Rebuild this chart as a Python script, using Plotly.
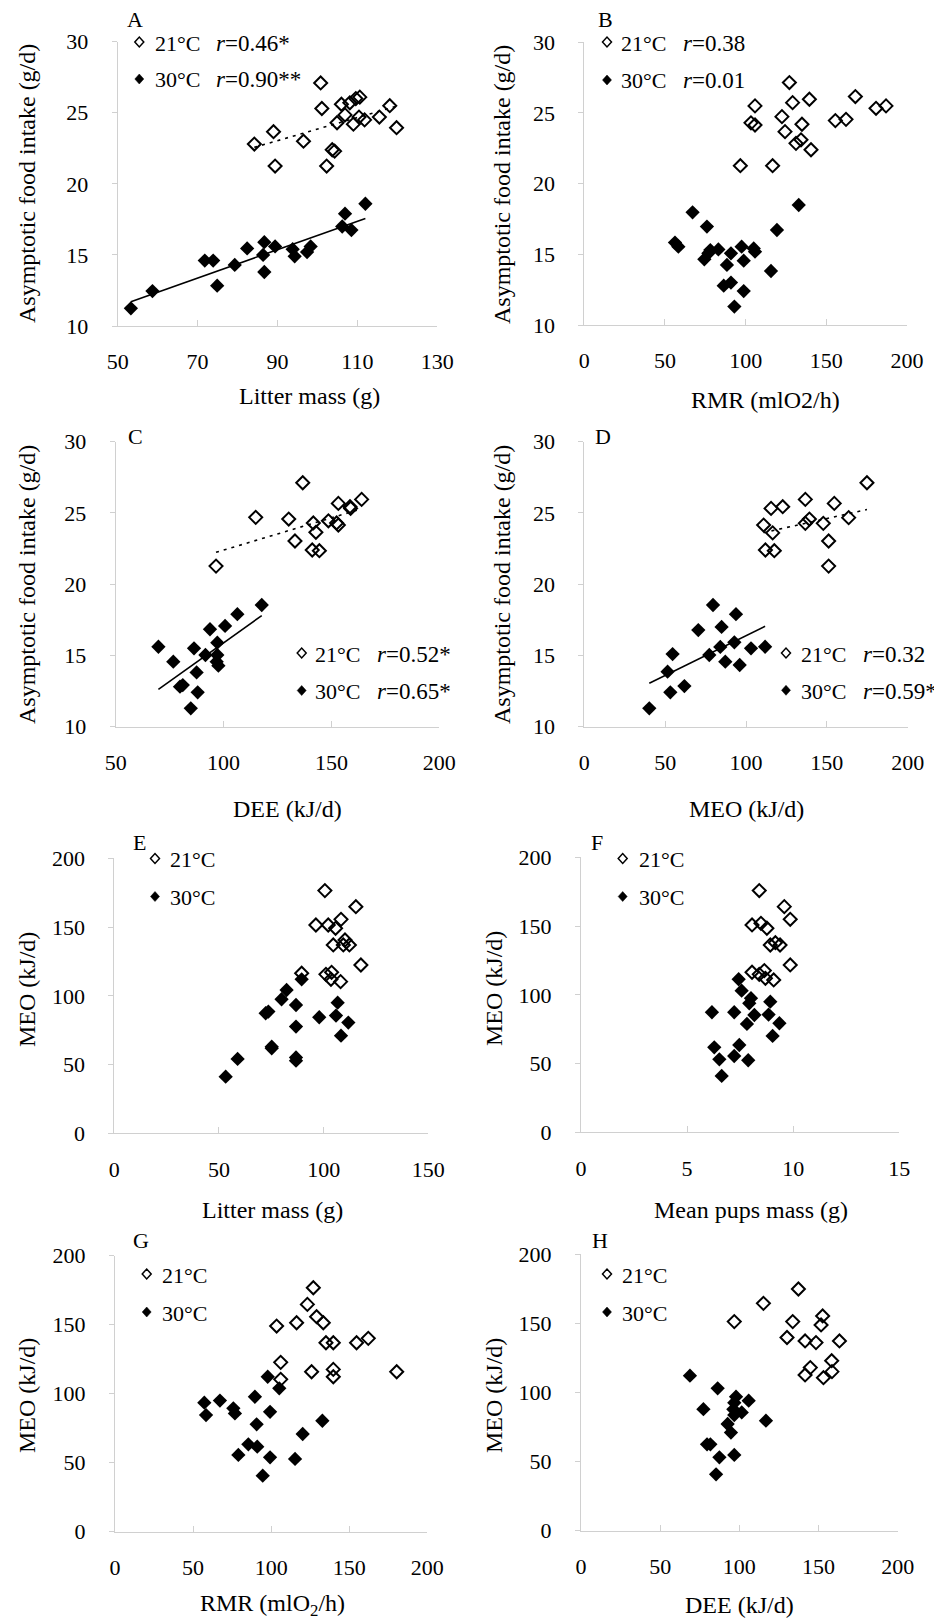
import numpy as np
import plotly.graph_objects as go

# ---------------- data ----------------
# Panel A: litter mass (g) vs asymptotic food intake (g/d)
A21_x = [84.2, 89.0, 89.4, 96.5, 100.8, 101.1, 102.3, 103.7, 104.3, 104.9, 106.0, 106.9, 108.1, 109.0, 109.6, 110.6, 110.4, 111.8, 115.5, 118.1, 119.8]
A21_y = [22.8, 23.67, 21.25, 23.0, 27.1, 25.3, 21.25, 22.4, 22.3, 24.3, 25.6, 24.85, 25.7, 24.2, 26.0, 26.1, 24.7, 24.5, 24.7, 25.5, 23.95]
A30_x = [53.3, 58.7, 71.8, 73.9, 74.9, 79.3, 82.4, 86.7, 86.4, 86.7, 89.4, 93.8, 94.3, 97.4, 98.3, 106.2, 106.9, 108.5, 112.0]
A30_y = [11.24, 12.46, 14.6, 14.6, 12.84, 14.3, 15.46, 15.9, 15.0, 13.8, 15.6, 15.4, 14.9, 15.2, 15.6, 17.0, 17.9, 16.75, 18.6]

# Panel B: RMR vs asymptotic food intake
B21_x = [96.7, 116.7, 103.3, 105.8, 105.8, 122.5, 124.4, 127.1, 129.1, 131.2, 134.3, 134.9, 139.5, 140.5, 155.6, 162.2, 168.0, 180.8, 187.0]
B21_y = [21.27, 21.27, 24.3, 24.15, 25.5, 24.74, 23.68, 27.15, 25.73, 22.85, 23.1, 24.2, 25.97, 22.4, 24.46, 24.55, 26.16, 25.33, 25.5]
B30_x = [56.2, 58.3, 67.1, 76.0, 74.4, 76.9, 78.1, 83.1, 90.9, 88.4, 86.4, 90.9, 93.0, 97.5, 98.8, 98.8, 105.0, 105.8, 115.7, 119.4, 132.9]
B30_y = [15.83, 15.54, 17.97, 16.96, 14.65, 15.07, 15.3, 15.35, 15.07, 14.25, 12.78, 13.0, 11.3, 15.54, 14.55, 12.4, 15.42, 15.19, 13.82, 16.72, 18.49]

# Panel C: DEE vs asymptotic food intake
C21_x = [96.5, 114.9, 130.2, 136.7, 133.1, 141.6, 142.8, 141.1, 144.4, 148.6, 152.4, 153.2, 153.2, 158.6, 158.9, 164.0]
C21_y = [21.27, 24.69, 24.57, 27.12, 23.03, 24.3, 23.64, 22.4, 22.35, 24.45, 24.3, 24.15, 25.67, 25.44, 25.32, 25.95]
C30_x = [69.8, 76.7, 79.8, 81.1, 86.3, 87.5, 88.0, 84.8, 91.6, 93.7, 97.1, 97.1, 96.8, 97.6, 100.7, 106.4, 117.7]
C30_y = [15.61, 14.56, 12.81, 12.92, 15.5, 13.81, 12.41, 11.29, 15.03, 16.84, 15.9, 15.03, 14.56, 14.28, 17.07, 17.9, 18.54]

# Panel D: MEO vs asymptotic food intake
D21_x = [110.9, 112.0, 115.5, 116.5, 117.5, 122.7, 136.7, 136.7, 139.2, 147.8, 151.1, 151.1, 154.6, 163.5, 174.8]
D21_y = [24.15, 22.4, 25.32, 23.6, 22.35, 25.44, 25.95, 24.27, 24.57, 24.27, 23.03, 21.27, 25.67, 24.67, 27.12]
D30_x = [40.2, 51.5, 53.2, 54.6, 61.9, 70.5, 77.3, 79.6, 84.1, 84.9, 87.2, 92.8, 93.8, 96.1, 103.1, 111.8]
D30_y = [11.29, 13.86, 12.41, 15.1, 12.85, 16.78, 15.03, 18.54, 15.6, 17.0, 14.56, 15.92, 17.9, 14.33, 15.5, 15.61]

# Panel E: litter mass vs MEO
E21_x = [100.6, 96.3, 102.2, 105.7, 108.3, 115.4, 104.6, 109.4, 110.2, 112.3, 89.5, 101.1, 103.8, 103.5, 108.1, 117.8]
E21_y = [176.5, 151.5, 151.5, 149.1, 155.6, 164.8, 137.0, 137.0, 140.6, 137.0, 116.4, 115.6, 117.1, 112.0, 110.3, 122.4]
E30_x = [53.2, 58.9, 72.3, 73.6, 75.2, 75.2, 79.9, 82.3, 86.8, 86.8, 86.8, 86.8, 89.5, 97.9, 106.7, 105.9, 111.8, 108.3]
E30_y = [41.2, 54.1, 87.3, 88.5, 63.0, 61.8, 97.5, 104.2, 93.3, 77.6, 55.2, 52.8, 112.0, 84.4, 95.0, 85.6, 80.5, 71.0]

# Panel F: mean pups mass vs MEO
F21_x = [8.40, 9.58, 9.86, 8.06, 8.48, 8.76, 8.92, 9.16, 9.38, 8.06, 8.40, 8.64, 8.69, 9.08, 9.86]
F21_y = [175.8, 164.1, 154.9, 150.8, 152.0, 148.4, 136.2, 137.9, 136.2, 116.4, 114.9, 117.6, 112.0, 110.8, 121.7]
F30_x = [6.17, 6.28, 6.52, 6.63, 7.22, 7.22, 7.46, 7.43, 7.57, 7.88, 8.01, 7.93, 7.82, 8.17, 8.92, 8.84, 9.35, 9.03]
F30_y = [87.3, 61.8, 53.1, 41.0, 87.3, 55.5, 63.5, 111.3, 103.0, 52.4, 97.5, 93.8, 78.8, 85.3, 95.0, 85.6, 79.3, 70.1]

# Panel G: RMR vs MEO
G21_x = [127.0, 123.2, 129.1, 133.4, 116.3, 103.5, 135.1, 139.8, 154.7, 162.2, 106.1, 106.1, 125.9, 139.8, 139.8, 180.4]
G21_y = [176.8, 164.7, 155.8, 151.4, 151.4, 149.0, 136.9, 136.9, 136.9, 140.1, 122.7, 110.4, 115.9, 117.6, 112.3, 115.9]
G30_x = [57.2, 58.3, 67.2, 75.8, 76.8, 79.0, 85.4, 89.6, 90.7, 91.1, 94.6, 97.8, 99.3, 99.3, 105.2, 115.3, 120.2, 132.8]
G30_y = [93.5, 84.5, 95.0, 89.4, 85.7, 55.6, 63.3, 97.8, 77.8, 61.6, 40.6, 112.3, 86.9, 53.9, 103.9, 52.7, 70.8, 80.4]

# Panel H: DEE vs MEO
H21_x = [96.8, 115.2, 137.3, 133.7, 152.6, 151.6, 130.1, 141.5, 148.4, 163.2, 158.3, 158.5, 144.8, 141.5, 153.1]
H21_y = [151.3, 164.5, 174.9, 151.3, 155.4, 148.9, 139.8, 137.3, 136.1, 137.3, 123.0, 115.1, 118.0, 112.7, 110.7]
H30_x = [68.8, 86.3, 77.3, 79.6, 81.7, 87.4, 85.3, 96.8, 92.6, 94.7, 97.9, 96.8, 96.2, 96.8, 101.5, 105.9, 116.8]
H30_y = [112.2, 103.0, 87.9, 62.5, 62.5, 53.1, 40.8, 54.8, 77.2, 71.0, 97.0, 92.6, 87.8, 83.7, 85.6, 94.1, 79.6]

# legend labels / correlation text
R21 = {"A": "0.46*", "B": "0.38", "C": "0.52*", "D": "0.32"}
R30 = {"A": "0.90**", "B": "0.01", "C": "0.65*", "D": "0.59*"}
FITTED = ["A", "C", "D"]

FOOD = "Asymptotic food intake (g/d)"
MEO = "MEO (kJ/d)"
XTITLES = {"A": "Litter mass (g)", "B": "RMR (mlO2/h)", "C": "DEE (kJ/d)", "D": "MEO (kJ/d)",
           "E": "Litter mass (g)", "F": "Mean pups mass (g)", "G": "RMR (mlO<sub>2</sub>/h)", "H": "DEE (kJ/d)"}

DATA = {
    "A": (A21_x, A21_y, A30_x, A30_y), "B": (B21_x, B21_y, B30_x, B30_y),
    "C": (C21_x, C21_y, C30_x, C30_y), "D": (D21_x, D21_y, D30_x, D30_y),
    "E": (E21_x, E21_y, E30_x, E30_y), "F": (F21_x, F21_y, F30_x, F30_y),
    "G": (G21_x, G21_y, G30_x, G30_y), "H": (H21_x, H21_y, H30_x, H30_y),
}

# ---------------- layout geometry (page pixels) ----------------
OFF = 8                      # default body margin of the page
W, H = 942 - OFF, 1623 - OFF  # figure size
SERIF = "Liberation Serif"
AXC = "#d0d0d0"

def px(x):
    return (x - OFF) / W

def py(y):
    return 1 - (y - OFF) / H

# plot-area boxes: x0, x1, ytop, ybottom
BOX = {
    "A": (117.7, 437.3, 41.7, 326.0), "B": (584.3, 907.0, 42.3, 325.0),
    "C": (115.7, 439.3, 441.7, 726.7), "D": (584.3, 907.7, 441.7, 726.7),
    "E": (114.3, 428.3, 858.3, 1133.3), "F": (581.0, 899.3, 857.3, 1132.3),
    "G": (115.0, 427.3, 1255.7, 1531.7), "H": (581.0, 897.7, 1254.3, 1530.7),
}
XR = {"A": (50, 130, 20), "B": (0, 200, 50), "C": (50, 200, 50), "D": (0, 200, 50),
      "E": (0, 150, 50), "F": (0, 15, 5), "G": (0, 200, 50), "H": (0, 200, 50)}
YR = {k: (10, 30, 5) for k in "ABCD"}
YR.update({k: (0, 200, 50) for k in "EFGH"})

LETTER = {"A": (125, 19), "B": (596, 20), "C": (126, 436), "D": (593, 436),
          "E": (131, 842), "F": (589, 842), "G": (131, 1240), "H": (590, 1240)}
# legend: diamond x, text x, r x, row1 y, row2 y
LEG = {"A": (139.3, 153.3, 213.5, 43, 80), "B": (607, 619.3, 681, 43, 81),
       "C": (301.7, 313.3, 375, 654, 691.5), "D": (786, 799.3, 861, 654, 691.3),
       "E": (155, 168.3, None, 859.5, 897.5), "F": (622.7, 636.5, None, 859.5, 897.5),
       "G": (146.7, 160, None, 1275, 1313), "H": (607, 620, None, 1275, 1313)}
YT = {"A": (27, 184), "B": (502, 185), "C": (27, 585), "D": (502, 585),
      "E": (27, 990), "F": (494, 989), "G": (27, 1396), "H": (494, 1396)}
XT = {"A": (309, 396), "B": (765, 400), "C": (287, 809), "D": (746, 809),
      "E": (272.5, 1210), "F": (751, 1210), "G": (272.5, 1605), "H": (739.3, 1605)}

fig = go.Figure()
annotations = []
shapes = []

for i, key in enumerate("ABCDEFGH"):
    n = "" if i == 0 else str(i + 1)
    xa, ya = "x" + n, "y" + n
    x21, y21, x30, y30 = DATA[key]
    fig.add_trace(go.Scatter(x=x21, y=y21, mode="markers", xaxis=xa, yaxis=ya, cliponaxis=False,
                             marker=dict(symbol="diamond-open", size=10, color="black", line=dict(width=2, color="black")),
                             showlegend=False))
    fig.add_trace(go.Scatter(x=x30, y=y30, mode="markers", xaxis=xa, yaxis=ya, cliponaxis=False,
                             marker=dict(symbol="diamond", size=11, color="black", line=dict(width=0)),
                             showlegend=False))
    if key in FITTED:
        for xs, ys, dash in ((x21, y21, "3px,5px"), (x30, y30, "solid")):
            xs_a, ys_a = np.array(xs), np.array(ys)
            m, b = np.polyfit(xs_a, ys_a, 1)
            lx = np.array([xs_a.min(), xs_a.max()])
            fig.add_trace(go.Scatter(x=lx, y=m * lx + b, mode="lines", xaxis=xa, yaxis=ya,
                                     line=dict(color="black", width=1.6, dash=dash), showlegend=False))

    x0, x1, yt, yb = BOX[key]
    r0, r1, dx = XR[key]
    s0, s1, dy = YR[key]
    common = dict(showgrid=False, zeroline=False, showline=True, linecolor=AXC, linewidth=1,
                  automargin=False, tickcolor=AXC, tickwidth=1,
                  tickfont=dict(family=SERIF, size=22, color="black"))
    fig.update_layout(**{
        "xaxis" + n: dict(domain=[px(x0), px(x1)], range=[r0, r1], dtick=dx, tick0=r0, anchor=ya,
                          ticks="inside", ticklen=6, ticklabelstandoff=16, **common),
        "yaxis" + n: dict(domain=[py(yb), py(yt)], range=[s0, s1], dtick=dy, tick0=s0, anchor=xa,
                          ticks="outside", ticklen=5, ticklabelstandoff=19, **common),
    })

    # panel letter
    lx_, ly_ = LETTER[key]
    annotations.append(dict(text=key, x=px(lx_), y=py(ly_), xref="paper", yref="paper", showarrow=False,
                            xanchor="left", yanchor="middle", font=dict(family=SERIF, size=22, color="black")))
    # legend
    dxp, tx, rx, y1, y2 = LEG[key]
    for yy, filled, lab in ((y1, False, "21°C"), (y2, True, "30°C")):
        shapes.append(dict(type="path", xref="paper", yref="paper", xsizemode="pixel", ysizemode="pixel",
                           xanchor=px(dxp), yanchor=py(yy - 1), path="M -4.5,0 L 0,5 L 4.5,0 L 0,-5 Z",
                           line=dict(color="black", width=1.5 if not filled else 0.5),
                           fillcolor="black" if filled else "rgba(0,0,0,0)"))
        annotations.append(dict(text=lab, x=px(tx), y=py(yy), xref="paper", yref="paper", showarrow=False,
                                xanchor="left", yanchor="middle", font=dict(family=SERIF, size=22, color="black")))
        if rx is not None:
            rv = R21[key] if not filled else R30[key]
            annotations.append(dict(text="<i>r</i>=" + rv, x=px(rx), y=py(yy), xref="paper", yref="paper",
                                    showarrow=False, xanchor="left", yanchor="middle",
                                    font=dict(family=SERIF, size=23, color="black")))
    # axis titles
    ytx, yty = YT[key]
    annotations.append(dict(text=FOOD if key in "ABCD" else MEO, x=px(ytx), y=py(yty), xref="paper", yref="paper",
                            showarrow=False, textangle=-90, xanchor="center", yanchor="middle",
                            font=dict(family=SERIF, size=24, color="black")))
    xtx, xty = XT[key]
    annotations.append(dict(text=XTITLES[key], x=px(xtx), y=py(xty), xref="paper", yref="paper",
                            showarrow=False, xanchor="center", yanchor="middle",
                            font=dict(family=SERIF, size=24, color="black")))

fig.update_layout(template="none", width=W, height=H, margin=dict(l=0, r=0, t=0, b=0, pad=0),
                  autosize=False, paper_bgcolor="white", plot_bgcolor="white",
                  annotations=annotations, shapes=shapes, showlegend=False)

fig.write_html("out.html")
